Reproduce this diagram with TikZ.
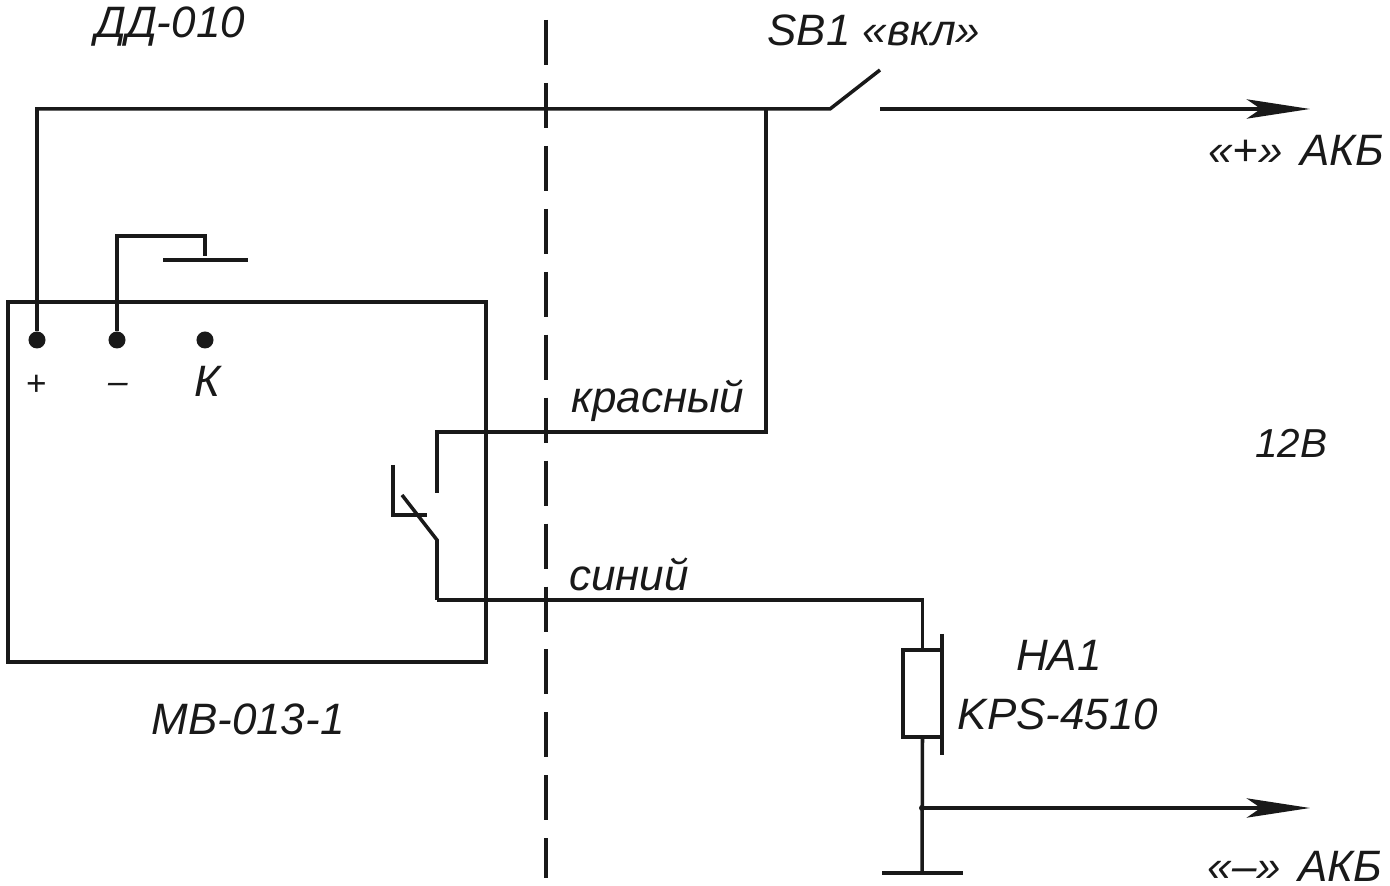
\documentclass[tikz,border=0pt]{standalone}
\usepackage{fontspec}
\setmainfont{Liberation Sans}
\usetikzlibrary{arrows.meta}
\tikzset{
	wire/.style={line width=1pt,line join=miter,black!90},
	feed/.style={wire,-{Stealth[length=18pt,width=5.5pt,inset=4pt]}},
	termdot/.style={circle,fill=black!90,inner sep=0pt,minimum size=0.17cm},
	lbl/.style={inner sep=0pt,black!90,font=\fontsize{12.5}{15}\selectfont\itshape},
	lblsmall/.style={lbl,font=\fontsize{10}{12}\selectfont\itshape},
	sound/.style={draw,wire,inner sep=0pt,minimum width=0.39cm,minimum height=0.87cm},
	border/.style={wire,dash pattern=on 12.8pt off 5.1pt}
}
\begin{document}
\begin{tikzpicture}[x=0.01cm,y=-0.01cm]
	\useasboundingbox (0,0) rectangle (1390,886);
	% relay block
	\draw[wire] (8,302) rectangle (486,662);
	\node[termdot] (plus) at (37,340) {};
	\node[termdot] (minus) at (117,340) {};
	\node[termdot] (sensor) at (205,340) {};
	\node[lblsmall] (plustext) at (36,385) {+};
	\node[lblsmall] (minustext) at (118,388) {–};
	\node[lbl] (sensortext) at (207,381) {К};
	\node[lbl] (mbtext) at (248,719) {МВ-013-1};
	% top wire and switch
	\coordinate (corner) at (37,109);
	\coordinate (tap) at (766,109);
	\coordinate (sbfixed) at (830,109);
	\coordinate (sbopen) at (880,70);
	\coordinate (sbnext) at (880,109);
	\coordinate (plusend) at (1310,109);
	\draw[wire] (plus) -- (corner) -- (sbfixed) -- (sbopen);
	\draw[feed] (sbnext) -- (plusend);
	% electrode
	\coordinate (padwire) at (205,256);
	\coordinate (padleft) at (163,260);
	\coordinate (padright) at (248,260);
	\draw[wire] (minus) |- (padwire |- 0,236) -- (padwire);
	\draw[wire] (padleft) -- (padright);
	% relay contact
	\coordinate (redend) at (437,493);
	\coordinate (blueup) at (437,540);
	\coordinate (bluetip) at (402,495);
	\coordinate (blueturn) at (437,600);
	\coordinate (driveup) at (393,465);
	\coordinate (drivecorner) at (393,515);
	\coordinate (driveend) at (427,515);
	\draw[wire] (tap) |- (redend |- 0,432) -- (redend);
	\draw[wire] (bluetip) -- (blueup) -- (blueturn);
	\draw[wire] (driveup) -- (drivecorner) -- (driveend);
	% sounder
	\node[sound] (ha) at (922.5,693.5) {};
	\coordinate (hatop) at (942,634);
	\coordinate (habottom) at (942,755);
	\coordinate (gnd) at (922,873);
	\coordinate (gndleft) at (882,873);
	\coordinate (gndright) at (963,873);
	\coordinate (minustap) at (922,808);
	\coordinate (minusend) at (1310,808);
	\draw[wire] (blueturn) -| (ha.north);
	\draw[wire] (hatop) -- (habottom);
	\draw[wire] (ha.south) -- (gnd);
	\draw[wire] (gndleft) -- (gndright);
	\draw[feed] (minustap) -- (minusend);
	\fill[black!90] (minustap) circle (3);
	% boundary
	\coordinate (bordertop) at (546,20);
	\coordinate (borderbottom) at (546,878);
	\draw[border] (bordertop) -- (borderbottom);
	% texts
	\node[lbl] (ddtext) at (170,27) {ДД-010};
	\node[lbl] (sbtext) at (874,30) {SB1 «вкл»};
	\node[lbl] (plusakb) at (1296,150) {«+»\hspace{5pt}АКБ};
	\node[lbl] (redtext) at (658,401) {красный};
	\node[lbl] (bluetext) at (629,574) {синий};
	\node[lbl,font=\fontsize{11.5}{14}\selectfont\itshape] (voltage) at (1291,443) {12В};
	\node[lbl] (hatext) at (1059,655) {НА1};
	\node[lbl] (kpstext) at (1058,714) {KPS-4510};
	\node[lbl] (minusakb) at (1295,866) {«–»\hspace{5pt}АКБ};
\end{tikzpicture}
\end{document}
